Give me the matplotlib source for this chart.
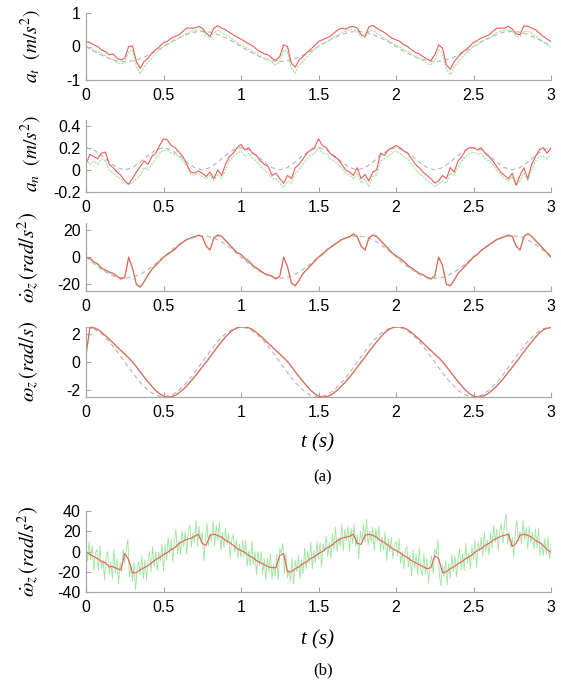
import numpy as np
import matplotlib
matplotlib.use('Agg')
import matplotlib.pyplot as plt

plt.rcParams['font.family'] = ['Liberation Sans', 'DejaVu Sans']
plt.rcParams['mathtext.fontset'] = 'stix'

# time grids
t = np.linspace(0, 3, 121)
t_ref = np.linspace(0, 3, 61)
t_fine = np.linspace(0, 3, 301)

xticks = [0, 0.5, 1, 1.5, 2, 2.5, 3]
xticklabels = ['0', '0.5', '1', '1.5', '2', '2.5', '3']

# ---- a_t (m/s^2)
at_ref = [0, -0.14, -0.26, -0.36, -0.43, -0.45, -0.43, -0.36, -0.26, -0.14, 0, 0.14, 0.26, 0.36, 0.43, 0.45, 0.43, 0.36, 0.26, 0.14,
          0, -0.14, -0.26, -0.36, -0.43, -0.45, -0.43, -0.36, -0.26, -0.14, 0, 0.14, 0.26, 0.36, 0.43, 0.45, 0.43, 0.36, 0.26, 0.14,
          0, -0.14, -0.26, -0.36, -0.43, -0.45, -0.43, -0.36, -0.26, -0.14, 0, 0.14, 0.26, 0.36, 0.43, 0.45, 0.43, 0.36, 0.26, 0.14, 0]
at_red = [0.15, 0.12, 0.05, 0.00, -0.10, -0.15, -0.25, -0.22, -0.35, -0.40, -0.35, 0.00, 0.02, -0.45, -0.65, -0.45, -0.35, -0.20, -0.10, 0.00,
          0.12, 0.15, 0.25, 0.30, 0.35, 0.45, 0.55, 0.55, 0.55, 0.60, 0.55, 0.40, 0.30, 0.55, 0.62, 0.55, 0.50, 0.42, 0.35, 0.28,
          0.22, 0.15, 0.08, 0.02, -0.08, -0.15, -0.22, -0.25, -0.35, -0.42, -0.30, 0.05, 0.00, -0.50, -0.62, -0.40, -0.30, -0.18, -0.08, 0.02,
          0.15, 0.20, 0.25, 0.30, 0.40, 0.50, 0.55, 0.52, 0.58, 0.60, 0.55, 0.35, 0.30, 0.58, 0.63, 0.55, 0.48, 0.42, 0.33, 0.25,
          0.20, 0.15, 0.05, 0.00, -0.10, -0.18, -0.22, -0.30, -0.38, -0.42, -0.25, 0.05, -0.05, -0.55, -0.68, -0.45, -0.32, -0.18, -0.10, 0.00,
          0.12, 0.18, 0.25, 0.30, 0.35, 0.45, 0.55, 0.55, 0.55, 0.60, 0.52, 0.38, 0.35, 0.62, 0.60, 0.55, 0.50, 0.40, 0.30, 0.22, 0.15]
at_green = [0.02, -0.05, -0.10, -0.15, -0.22, -0.28, -0.35, -0.40, -0.48, -0.52, -0.50, -0.15, -0.10, -0.60, -0.82, -0.60, -0.48, -0.35, -0.22, -0.10,
            0.00, 0.05, 0.12, 0.18, 0.25, 0.32, 0.40, 0.45, 0.48, 0.52, 0.48, 0.30, 0.25, 0.40, 0.48, 0.42, 0.35, 0.28, 0.20, 0.12,
            0.05, -0.02, -0.08, -0.15, -0.20, -0.28, -0.35, -0.40, -0.48, -0.55, -0.45, -0.10, -0.15, -0.65, -0.80, -0.55, -0.45, -0.32, -0.20, -0.08,
            0.02, 0.08, 0.12, 0.20, 0.28, 0.35, 0.42, 0.45, 0.50, 0.52, 0.45, 0.28, 0.28, 0.45, 0.48, 0.40, 0.33, 0.25, 0.18, 0.10,
            0.05, -0.02, -0.10, -0.15, -0.22, -0.30, -0.35, -0.42, -0.50, -0.55, -0.42, -0.10, -0.20, -0.68, -0.85, -0.60, -0.48, -0.32, -0.22, -0.10,
            0.00, 0.05, 0.12, 0.20, 0.25, 0.32, 0.42, 0.45, 0.48, 0.50, 0.45, 0.30, 0.30, 0.45, 0.45, 0.40, 0.32, 0.25, 0.15, 0.05, -0.02]

# ---- a_n (m/s^2)
an_ref = [0.2, 0.18, 0.13, 0.07, 0.02, 0, 0.02, 0.07, 0.13, 0.18, 0.2, 0.18, 0.13, 0.07, 0.02, 0, 0.02, 0.07, 0.13, 0.18,
          0.2, 0.18, 0.13, 0.07, 0.02, 0, 0.02, 0.07, 0.13, 0.18, 0.2, 0.18, 0.13, 0.07, 0.02, 0, 0.02, 0.07, 0.13, 0.18,
          0.2, 0.18, 0.13, 0.07, 0.02, 0, 0.02, 0.07, 0.13, 0.18, 0.2, 0.18, 0.13, 0.07, 0.02, 0, 0.02, 0.07, 0.13, 0.18, 0.2]
an_red = [0.05, 0.14, 0.12, 0.10, 0.15, 0.16, 0.05, 0.02, -0.02, -0.05, -0.10, -0.13, -0.08, -0.02, 0.03, 0.08, 0.05, 0.12, 0.15, 0.22,
          0.28, 0.27, 0.22, 0.20, 0.16, 0.12, 0.05, -0.02, -0.03, -0.01, -0.03, -0.06, -0.02, -0.08, 0.00, -0.05, 0.05, 0.12, 0.15, 0.20,
          0.23, 0.18, 0.20, 0.15, 0.13, 0.08, 0.05, 0.03, -0.05, -0.03, -0.08, -0.12, -0.05, -0.08, 0.02, 0.05, 0.10, 0.15, 0.18, 0.20,
          0.28, 0.22, 0.20, 0.15, 0.12, 0.10, 0.05, 0.00, -0.02, -0.05, 0.02, -0.08, -0.04, -0.10, -0.02, 0.00, 0.15, 0.13, 0.18, 0.20,
          0.22, 0.20, 0.17, 0.15, 0.10, 0.05, 0.02, -0.02, -0.05, -0.08, -0.12, -0.10, -0.05, -0.08, 0.02, -0.02, 0.08, 0.12, 0.18, 0.20,
          0.20, 0.18, 0.20, 0.15, 0.12, 0.08, 0.03, -0.02, -0.05, -0.08, -0.03, -0.14, -0.05, 0.02, -0.08, 0.05, 0.12, 0.18, 0.20, 0.15, 0.20]
an_green = [0.10, 0.05, 0.08, 0.05, 0.10, 0.08, 0.00, -0.03, -0.06, -0.08, -0.12, -0.13, -0.12, -0.08, -0.05, 0.02, 0.00, 0.05, 0.10, 0.15,
            0.18, 0.18, 0.15, 0.14, 0.12, 0.08, 0.03, -0.04, -0.05, -0.03, -0.06, -0.08, -0.05, -0.10, -0.04, -0.08, 0.00, 0.08, 0.12, 0.15,
            0.17, 0.12, 0.15, 0.10, 0.08, 0.03, 0.00, -0.03, -0.08, -0.08, -0.12, -0.16, -0.10, -0.12, -0.03, 0.00, 0.05, 0.10, 0.13, 0.15,
            0.20, 0.15, 0.15, 0.10, 0.08, 0.05, 0.02, -0.03, -0.05, -0.08, -0.03, -0.12, -0.08, -0.15, -0.06, -0.05, 0.08, 0.10, 0.13, 0.15,
            0.17, 0.15, 0.12, 0.10, 0.05, 0.00, -0.03, -0.06, -0.10, -0.12, -0.15, -0.13, -0.10, -0.12, -0.03, -0.05, 0.03, 0.08, 0.12, 0.15,
            0.16, 0.14, 0.15, 0.10, 0.08, 0.05, 0.00, -0.04, -0.08, -0.10, -0.06, -0.14, -0.10, -0.03, -0.10, 0.00, 0.08, 0.12, 0.12, 0.10, 0.14]

# ---- angular acceleration (rad/s^2)
wdot_ref = [0, -4.9, -9.2, -12.7, -14.9, -15.7, -14.9, -12.7, -9.2, -4.9, 0, 4.9, 9.2, 12.7, 14.9, 15.7, 14.9, 12.7, 9.2, 4.9,
            0, -4.9, -9.2, -12.7, -14.9, -15.7, -14.9, -12.7, -9.2, -4.9, 0, 4.9, 9.2, 12.7, 14.9, 15.7, 14.9, 12.7, 9.2, 4.9,
            0, -4.9, -9.2, -12.7, -14.9, -15.7, -14.9, -12.7, -9.2, -4.9, 0, 4.9, 9.2, 12.7, 14.9, 15.7, 14.9, 12.7, 9.2, 4.9, 0]
wdot_red = [0, -1, -3.5, -5, -8, -9.5, -11, -12, -14, -16, -15, 0, -8, -20, -22, -18, -13, -9, -6, -3,
            0, 2, 4, 6, 9, 11, 13, 14, 15, 16, 15, 8, 5, 14, 16, 15, 12, 9, 6, 3,
            2, -1, -3, -6, -8, -10, -12, -13, -14, -16, -14, 0, -7, -19, -21, -17, -12, -9, -6, -3,
            0, 2, 5, 7, 9, 11, 13, 14, 15, 17, 15, 8, 5, 14, 16, 15, 12, 9, 6, 3,
            1, -1, -3, -6, -8, -10, -12, -13, -15, -16, -14, 0, -6, -20, -21, -17, -12, -9, -6, -3,
            0, 2, 5, 7, 9, 11, 13, 14, 15, 16, 15, 8, 5, 15, 17, 15, 12, 9, 6, 3, 0]
wdot_green = [0, -1.5, -4, -5.5, -8.5, -10, -11.5, -12.5, -14.5, -16.5, -15.5, -1, -8.5, -20.5, -22.5, -18.5, -13.5, -9.5, -6.5, -3.5,
              -0.5, 1.5, 3.5, 5.5, 8.5, 10.5, 12.5, 13.5, 14.5, 16, 15.5, 8.5, 5.5, 14.5, 16.5, 15.5, 12.5, 9.5, 6.5, 3.5,
              1.5, -1.5, -3.5, -6.5, -8.5, -10.5, -12.5, -13.5, -14.5, -16.5, -14.5, -0.5, -7.5, -19.5, -21.5, -17.5, -12.5, -9.5, -6.5, -3.5,
              -0.5, 1.5, 4.5, 6.5, 8.5, 10.5, 12.5, 13.5, 14.5, 16.5, 14.5, 7.5, 5.5, 13.5, 16.5, 15.5, 12.5, 9.5, 6.5, 3.5,
              0.5, -1.5, -3.5, -6.5, -8.5, -10.5, -12.5, -13.5, -15.5, -16.5, -14.5, -0.5, -6.5, -20.5, -21.5, -17.5, -12.5, -9.5, -6.5, -3.5,
              -0.5, 1.5, 4.5, 6.5, 8.5, 10.5, 12.5, 13.5, 14.5, 16.5, 15.5, 8.5, 5.5, 14.5, 17.5, 15.5, 12.5, 9.5, 6.5, 3.5, 0.5]

# ---- angular velocity (rad/s)
w_ref = [2.5, 2.38, 2.02, 1.47, 0.77, 0, -0.77, -1.47, -2.02, -2.38, -2.5, -2.38, -2.02, -1.47, -0.77, 0, 0.77, 1.47, 2.02, 2.38,
         2.5, 2.38, 2.02, 1.47, 0.77, 0, -0.77, -1.47, -2.02, -2.38, -2.5, -2.38, -2.02, -1.47, -0.77, 0, 0.77, 1.47, 2.02, 2.38,
         2.5, 2.38, 2.02, 1.47, 0.77, 0, -0.77, -1.47, -2.02, -2.38, -2.5, -2.38, -2.02, -1.47, -0.77, 0, 0.77, 1.47, 2.02, 2.38, 2.5]
w_red = [0.5, 2.45, 2.45, 2.32, 2.12, 1.88, 1.62, 1.35, 1.08, 0.82, 0.55, 0.28, 0.0, -0.35, -0.72, -1.08, -1.42, -1.75, -2.05, -2.28,
         -2.43, -2.5, -2.48, -2.38, -2.2, -1.97, -1.7, -1.38, -1.05, -0.7, -0.35, 0.0, 0.36, 0.75, 1.12, 1.47, 1.8, 2.08, 2.3, 2.44,
         2.5, 2.5, 2.44, 2.3, 2.1, 1.86, 1.6, 1.34, 1.08, 0.82, 0.56, 0.3, 0.02, -0.33, -0.7, -1.06, -1.4, -1.73, -2.03, -2.27,
         -2.43, -2.5, -2.48, -2.38, -2.2, -1.97, -1.7, -1.4, -1.07, -0.72, -0.36, 0.0, 0.36, 0.74, 1.1, 1.45, 1.78, 2.07, 2.3, 2.44,
         2.5, 2.5, 2.44, 2.3, 2.1, 1.86, 1.6, 1.34, 1.08, 0.82, 0.56, 0.3, 0.02, -0.33, -0.7, -1.06, -1.4, -1.73, -2.03, -2.27,
         -2.43, -2.5, -2.48, -2.38, -2.2, -1.97, -1.7, -1.4, -1.07, -0.72, -0.36, 0.0, 0.36, 0.74, 1.1, 1.45, 1.78, 2.07, 2.3, 2.42, 2.45]
w_green = [0.4, 2.4, 2.46, 2.35, 2.15, 1.92, 1.66, 1.4, 1.13, 0.86, 0.6, 0.32, 0.05, -0.3, -0.67, -1.03, -1.37, -1.7, -2.0, -2.25,
           -2.41, -2.5, -2.5, -2.4, -2.23, -2.0, -1.74, -1.43, -1.1, -0.75, -0.4, -0.05, 0.31, 0.7, 1.07, 1.42, 1.76, 2.05, 2.28, 2.43,
           2.5, 2.5, 2.46, 2.33, 2.13, 1.9, 1.64, 1.38, 1.12, 0.86, 0.6, 0.34, 0.06, -0.29, -0.66, -1.02, -1.36, -1.69, -2.0, -2.24,
           -2.41, -2.5, -2.5, -2.4, -2.23, -2.0, -1.74, -1.44, -1.12, -0.77, -0.41, -0.05, 0.31, 0.69, 1.05, 1.4, 1.74, 2.04, 2.28, 2.43,
           2.5, 2.5, 2.46, 2.33, 2.13, 1.9, 1.64, 1.38, 1.12, 0.86, 0.6, 0.34, 0.06, -0.29, -0.66, -1.02, -1.36, -1.69, -2.0, -2.24,
           -2.41, -2.5, -2.5, -2.4, -2.23, -2.0, -1.74, -1.44, -1.12, -0.77, -0.41, -0.05, 0.31, 0.69, 1.05, 1.4, 1.74, 2.04, 2.28, 2.4, 2.45]

# ---- (b) filtered vs raw angular acceleration
wdotb_red = [0, -3, -5, -7, -10, -11, -15, -15, -17, -18, -2, -8, -21, -21, -18, -16, -14, -11, -8, -6,
             -3, -1, 2, 4, 8, 10, 12, 13, 15, 17, 8, 6, 16, 17, 16, 14, 11, 9, 6, 3,
             1, -1, -4, -6, -9, -11, -13, -15, -16, -16, -4, -2, -20, -20, -17, -15, -12, -10, -7, -5,
             -2, 0, 3, 5, 8, 11, 13, 14, 15, 17, 8, 7, 16, 17, 16, 14, 11, 9, 6, 3,
             1, -1, -4, -6, -9, -11, -13, -15, -17, -16, -4, -7, -21, -20, -17, -15, -12, -10, -7, -5,
             -2, 1, 3, 6, 8, 11, 13, 15, 16, 17, 5, 8, 16, 17, 16, 14, 11, 9, 6, 2, -1]
wdotb_green = [6, -9, 10, -8, 6, -19, -2, 2, -19, 6, -17, -8, -28, -4, 0, -23, -10, -27, 2, -22,
               -7, -32, -11, -20, 2, -12, 2, 12, -25, -12, -29, -11, -38, -16, -10, -23, -4, -27, -8, -28,
               -10, 0, -20, 5, -15, 0, -19, -1, -9, 7, -19, 7, -8, 14, -2, 12, -10, 10, 22, -2,
               11, -3, 21, 5, 20, -3, 20, 26, 4, 18, 9, 31, 5, 25, 10, 19, -9, 11, 28, 6,
               18, 10, 30, 6, 26, 11, 29, 1, 19, 4, 23, 7, 18, -7, 11, 17, -1, 12, -7, 7,
               -6, 11, -5, 11, -15, 1, -14, 10, -13, 0, -23, 0, -14, 0, -22, -7, -29, -6, -20, -2,
               -27, -13, -25, -3, -28, 3, -2, 8, -22, -2, -26, -18, -29, -7, -32, -9, -20, -4, -27, -8,
               -22, 3, -17, 0, -11, 9, -17, 1, -12, 10, -7, 9, -15, 8, 0, 15, -5, 9, -7, 18,
               2, 24, 0, 14, 5, 27, 1, 22, 11, 25, 0, 23, 8, 27, 5, 16, -7, 20, 10, 28,
               9, 32, 6, 20, 9, 24, 1, 23, 10, 25, 0, 14, 1, 19, -9, 13, 0, 14, -7, 7,
               10, -5, 13, -12, 0, -17, 2, 5, -15, -4, -24, 2, -17, -2, -23, 3, -18, -24, -2, -23,
               -7, -31, -13, -4, -22, 2, -3, 12, -23, -34, -13, -25, -9, -33, -12, -26, -3, -20, -4, -25,
               -8, 3, -18, -2, -19, 8, -12, -2, -17, 6, -7, 11, -16, 9, 0, 14, -5, 19, 0, 11,
               -4, 19, 3, 26, 9, 22, 1, 21, 27, 8, 28, 37, 7, 19, 4, 14, -6, 20, 31, 10,
               20, 7, 31, 11, 24, 2, 25, 9, 19, 2, 22, 3, 23, -4, 9, -4, 13, -3, 14, -7, 5]

RED = '#f05a5a'
GREEN = '#9be69b'
GREY = '#b4b4b4'
AXC = '#a8a8a8'

W, H = 561, 687
fig = plt.figure(figsize=(W / 100, H / 100), dpi=100)


def make_ax(top, bottom):
    ax = fig.add_axes([86 / W, 1 - bottom / H, (551 - 86) / W, (bottom - top) / H])
    for s in ['top', 'right']:
        ax.spines[s].set_visible(False)
    for s in ['left', 'bottom']:
        ax.spines[s].set_color(AXC)
        ax.spines[s].set_linewidth(0.9)
    ax.tick_params(direction='in', length=3.5, width=0.8, color=AXC, labelsize=11.5, labelcolor='black')
    ax.tick_params(axis='x', pad=6)
    ax.tick_params(axis='y', pad=4)
    ax.set_xlim(0, 3)
    ax.set_xticks(xticks)
    ax.set_xticklabels(xticklabels)
    return ax


def ylab(txt, top, bottom, x=31, size=14):
    fig.text(x / W, 1 - (top + bottom) / 2 / H, txt, rotation=90, ha='center', va='center', fontsize=size)


def serif_text(x, y, txt, size, style):
    fig.text(x / W, 1 - y / H, txt, ha='center', va='center', fontsize=size,
             family='Liberation Serif', style=style)


# panel 1
ax = make_ax(13, 80)
ax.plot(t_ref, at_ref, color=GREY, lw=0.8, dashes=(4, 3))
ax.plot(t, at_green, color=GREEN, lw=0.8, dashes=(2, 1))
ax.plot(t, at_red, color=RED, lw=0.8)
ax.set_ylim(-1, 1)
ax.set_yticks([-1, 0, 1])
ax.set_yticklabels(['-1', '0', '1'])
ylab(r'$a_t\ \ (m/s^2)$', 5, 88)

# panel 2
ax = make_ax(120, 192)
ax.plot(t_ref, an_ref, color=GREY, lw=0.8, dashes=(4, 3))
ax.plot(t, an_green, color=GREEN, lw=0.8, dashes=(2, 1))
ax.plot(t, an_red, color=RED, lw=0.8)
ax.set_ylim(-0.2, 0.45)
ax.set_yticks([-0.2, 0, 0.2, 0.4])
ax.set_yticklabels(['-0.2', '0', '0.2', '0.4'])
ylab(r'$a_n\ \ (m/s^2)$', 112, 196)

# panel 3
ax = make_ax(223, 291)
ax.plot(t_ref, wdot_ref, color=GREY, lw=0.8, dashes=(4, 3))
ax.plot(t, wdot_green, color=GREEN, lw=0.8)
ax.plot(t, wdot_red, color=RED, lw=0.8)
ax.set_ylim(-25, 25)
ax.set_yticks([-20, 0, 20])
ax.set_yticklabels(['-20', '0', '20'])
ylab(r'$\dot{\omega}_z\,(rad/s^2)$', 200, 316, x=29, size=15)

# panel 4
ax = make_ax(327, 397)
ax.plot(t_ref, w_ref, color=GREY, lw=0.8, dashes=(4, 3))
ax.plot(t, w_green, color=GREEN, lw=0.8)
ax.plot(t, w_red, color=RED, lw=0.8)
ax.set_ylim(-2.5, 2.5)
ax.set_yticks([-2, 0, 2])
ax.set_yticklabels(['-2', '0', '2'])
ylab(r'$\omega_z\,(rad/s)$', 318, 404, x=29, size=15)

serif_text(318, 443, 't (s)', 15, 'italic')
serif_text(323, 477, '(a)', 12, 'normal')

# panel 5
ax = make_ax(511, 592)
ax.plot(t_fine, wdotb_green, color=GREEN, lw=0.6)
ax.plot(t, wdotb_red, color=RED, lw=0.8)
ax.set_ylim(-40, 40)
ax.set_yticks([-40, -20, 0, 20, 40])
ax.set_yticklabels(['-40', '-20', '0', '20', '40'])
ylab(r'$\dot{\omega}_z\,(rad/s^2)$', 492, 612, x=29, size=15)

serif_text(318, 640, 't (s)', 15, 'italic')
serif_text(323, 670, '(b)', 12, 'normal')

fig.savefig('out.png', dpi=100)
